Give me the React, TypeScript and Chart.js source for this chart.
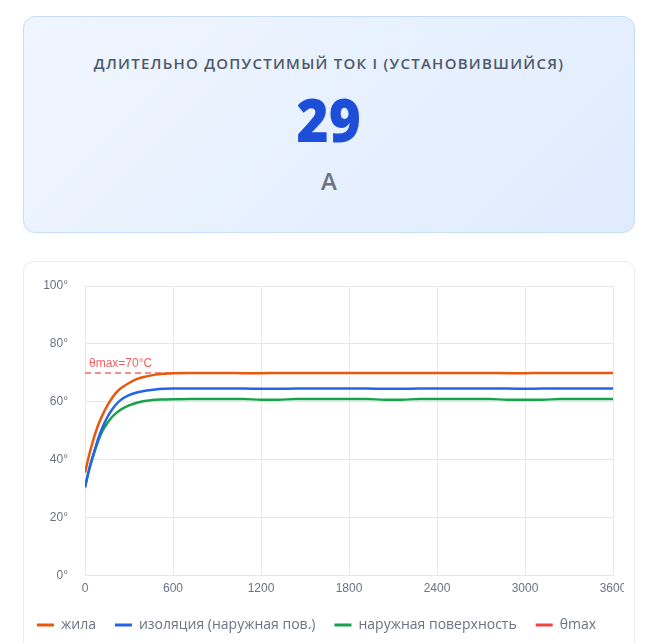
import React, { useEffect, useRef } from "react";
import { Chart, registerables } from "chart.js";

Chart.register(...registerables);

const times = [0, 30, 60, 90, 120, 150, 180, 210, 240, 300, 360, 420, 480, 540, 600, 720, 840, 960, 1080, 1200, 1320, 1440, 1560, 1680, 1800, 1920, 2040, 2160, 2280, 2400, 2520, 2640, 2760, 2880, 3000, 3120, 3240, 3360, 3480, 3600];
const core = [35.5, 42, 47.5, 52, 55.5, 58.5, 61, 63, 64.5, 66.5, 68, 68.8, 69.4, 69.7, 69.9, 70, 70, 70, 69.9, 69.9, 70, 70, 70, 70, 70, 70, 70, 70, 70, 70, 70, 70, 70, 69.9, 69.9, 70, 70, 70, 70, 70];
const insulation = [30.5, 37, 42.3, 47.3, 51.3, 54.5, 57, 59, 60.5, 62.3, 63.3, 63.9, 64.3, 64.5, 64.6, 64.6, 64.6, 64.6, 64.6, 64.5, 64.5, 64.6, 64.6, 64.6, 64.6, 64.6, 64.5, 64.5, 64.6, 64.6, 64.6, 64.6, 64.6, 64.6, 64.5, 64.6, 64.6, 64.6, 64.6, 64.6];
const surface = [30.5, 37, 42, 46.5, 50, 52.5, 54.5, 56, 57.2, 58.8, 59.8, 60.4, 60.7, 60.8, 60.9, 61, 61, 61, 61, 60.7, 60.7, 61, 61, 61, 61, 61, 60.7, 60.7, 61, 61, 61, 61, 61, 60.7, 60.7, 60.7, 61, 61, 61, 61];
const thetaMax = 70;
const seriesNames = ["жила", "изоляция (наружная пов.)", "наружная поверхность", "θmax"];
const seriesColors = ["#ea580c", "#2563eb", "#16a34a", "#ef4444"];
const xTickStep = 600;
const yTickStep = 20;

const labelPlugin = {
  id: "thetaLabel",
  afterDatasetsDraw(chart: any) {
    const { ctx, chartArea, scales } = chart;
    const y = scales.y.getPixelForValue(thetaMax);
    ctx.save();
    ctx.font = "12px 'Liberation Sans', Arial, sans-serif";
    ctx.fillStyle = "rgba(239,68,68,0.85)";
    ctx.textAlign = "left";
    ctx.textBaseline = "bottom";
    ctx.fillText("θmax=" + thetaMax + "°C", chartArea.left + 4, y - 3);
    ctx.restore();
  },
};

function TempChart() {
  const ref = useRef<HTMLCanvasElement>(null);
  useEffect(() => {
    if (!ref.current) return;
    const mk = (arr: number[]) => arr.map((v, i) => ({ x: times[i], y: v }));
    const line = (i: number, arr: number[]) => ({
      label: seriesNames[i],
      data: mk(arr),
      borderColor: seriesColors[i],
      backgroundColor: seriesColors[i],
      borderWidth: 2.5,
      pointRadius: 0,
      tension: 0.4,
      cubicInterpolationMode: "monotone" as const,
    });
    const chart = new Chart(ref.current, {
      type: "line",
      data: {
        datasets: [
          line(0, core),
          line(1, insulation),
          line(2, surface),
          { label: seriesNames[3], data: times.map((t) => ({ x: t, y: thetaMax })), borderColor: "rgba(239,68,68,0.8)", backgroundColor: seriesColors[3], borderWidth: 1.5, borderDash: [6, 4], pointRadius: 0 },
        ],
      },
      options: {
        animation: false,
        responsive: false,
        maintainAspectRatio: false,
        layout: { padding: 0 },
        scales: {
          x: {
            type: "linear",
            min: 0,
            max: 3600,
            afterFit: (s: any) => {
              s.paddingLeft = 0;
              s.paddingRight = 11;
              s.height = s.height - 3;
            },
            ticks: { stepSize: xTickStep, color: "#6b7280", padding: 6, font: { size: 12 }, callback: (v: any) => String(v) },
            grid: { color: "#e5e7eb", drawTicks: false },
            border: { color: "#e5e7eb" },
          },
          y: {
            min: 0,
            max: 100,
            afterFit: (s: any) => {
              s.width = 76;
              s.paddingTop = 9;
              s.paddingBottom = 0;
            },
            ticks: { stepSize: yTickStep, color: "#6b7280", padding: 17, font: { size: 12 }, callback: (v: any) => v + "°" },
            grid: { color: "#e5e7eb", drawTicks: false },
            border: { color: "#e5e7eb" },
          },
        },
        plugins: {
          legend: {
            position: "bottom",
            labels: {
              usePointStyle: true,
              pointStyle: "line",
              pointStyleWidth: 17,
              boxHeight: 12,
              color: "#6b7280",
              font: { size: 14, family: "'Open Sans', sans-serif" },
              padding: 19,
              generateLabels: (c: any) =>
                Chart.defaults.plugins.legend.labels.generateLabels(c).map((it: any, i: number) => ({
                  ...it,
                  strokeStyle: seriesColors[i],
                  fillStyle: seriesColors[i],
                  lineWidth: 3,
                  lineDash: [],
                })),
            },
          },
          tooltip: { enabled: false },
        },
      },
      plugins: [labelPlugin],
    });
    return () => chart.destroy();
  }, []);
  return <canvas ref={ref} width={615} height={365} style={{ display: "block", width: 615, height: 365, marginLeft: -15 }} />;
}

export default function App() {
  return (
    <div style={{ padding: "8px 0 0 15px", fontFamily: "'Open Sans', sans-serif" }}>
      <div
        style={{
          position: "relative",
          width: 610,
          height: 215,
          border: "1px solid #c7dcfa",
          borderRadius: 12,
          background: "linear-gradient(135deg, #f0f6ff 0%, #dfebfd 100%)",
        }}
      >
        <div style={{ position: "absolute", left: 0, right: 0, top: 36, textAlign: "center", fontSize: 15, lineHeight: "20px", fontWeight: 600, letterSpacing: 1.25, color: "#4f5968", textTransform: "uppercase" }}>
          Длительно допустимый ток I (установившийся)
        </div>
        <div style={{ position: "absolute", left: 0, right: 0, top: 63, textAlign: "center", fontSize: 61, lineHeight: "78px", fontWeight: 800, color: "#1d4ed8" }}>
          <span style={{ display: "inline-block", transform: "scaleX(0.9)" }}>29</span>
        </div>
        <div style={{ position: "absolute", left: 0, right: 0, top: 149, textAlign: "center", fontSize: 24, lineHeight: "30px", fontWeight: 600, color: "#6b7280" }}>
          А
        </div>
      </div>
      <div style={{ width: 610, height: 400, marginTop: 28, border: "1px solid #e8ebef", borderRadius: 10, paddingTop: 15, background: "#fff", boxSizing: "content-box" }}>
        <TempChart />
      </div>
    </div>
  );
}
